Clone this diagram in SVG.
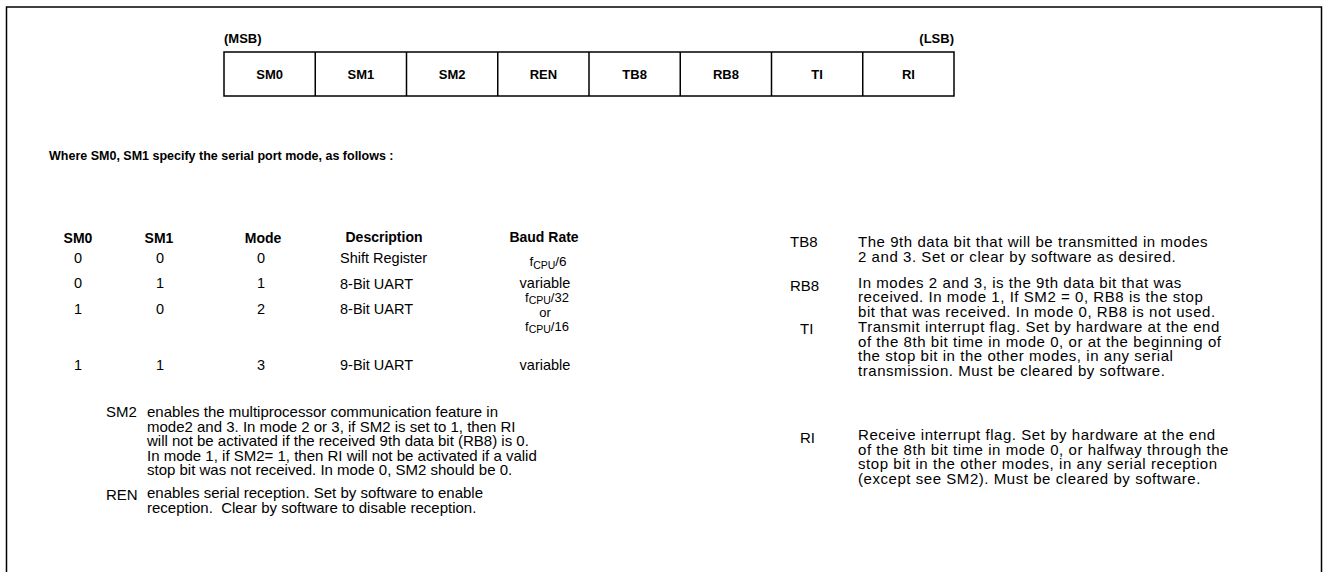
<svg xmlns="http://www.w3.org/2000/svg" width="1324" height="572" viewBox="0 0 1324 572">
<style>
text{font-family:"Liberation Sans",Arial,sans-serif;fill:#000}
.b{font-weight:bold;font-size:13px}
.h{font-weight:bold;font-size:14px}
.t{font-size:14.5px}
.f{font-size:13.5px}
.g{font-size:13px}
.l{font-size:15px}
.r{font-size:15px;letter-spacing:0.55px}
.c{text-anchor:middle}
.sub{font-size:10.5px}
.ln{fill:none;stroke:#000;stroke-width:1.5}
</style>
<rect width="1324" height="572" fill="#fff"/>
<path class="ln" d="M6.5,572 V7 H1321.5 V572" stroke-width="2"/>
<g id="register">
<text class="b" x="224" y="43">(MSB)</text>
<text class="b" x="954" y="43" text-anchor="end">(LSB)</text>
<rect class="ln" x="224" y="52" width="730" height="44"/>
<path class="ln" d="M315.25,52V96M406.5,52V96M497.75,52V96M589,52V96M680.25,52V96M771.5,52V96M862.75,52V96"/>
<g class="b c">
<text x="269.6" y="79">SM0</text>
<text x="360.9" y="79">SM1</text>
<text x="452.1" y="79">SM2</text>
<text x="543.4" y="79">REN</text>
<text x="634.6" y="79">TB8</text>
<text x="725.9" y="79">RB8</text>
<text x="817.1" y="79">TI</text>
<text x="908.4" y="79">RI</text>
</g>
</g>
<g id="title"><text class="b" x="49" y="160" style="font-size:12.5px">Where SM0, SM1 specify the serial port mode, as follows :</text></g>
<g id="mode-table">
<g class="h c">
<text x="78" y="243">SM0</text>
<text x="159" y="243">SM1</text>
<text x="263" y="243">Mode</text>
<text x="384" y="242">Description</text>
<text x="544" y="242">Baud Rate</text>
</g>
<g class="t c">
<text x="78" y="263">0</text><text x="160" y="263">0</text><text x="261" y="263">0</text>
<text x="78" y="288">0</text><text x="160" y="288">1</text><text x="261" y="288">1</text>
<text x="78" y="314">1</text><text x="160" y="314">0</text><text x="261" y="314">2</text>
<text x="78" y="370">1</text><text x="160" y="370">1</text><text x="261" y="370">3</text>
<text x="545" y="287.5">variable</text>
<text x="545" y="370">variable</text>
</g>
<g class="f c">
<text x="548" y="266">f<tspan class="sub" dy="3">CPU</tspan><tspan dy="-3">/6</tspan></text>
</g>
<g class="g c">
<text x="547" y="301.5">f<tspan class="sub" dy="2">CPU</tspan><tspan dy="-2">/32</tspan></text>
<text x="545" y="317">or</text>
<text x="547" y="330.5">f<tspan class="sub" dy="2">CPU</tspan><tspan dy="-2">/16</tspan></text>
</g>
<g class="t">
<text x="340" y="263">Shift Register</text>
<text x="340" y="289">8-Bit UART</text>
<text x="340" y="314">8-Bit UART</text>
<text x="340" y="370">9-Bit UART</text>
</g>
</g>
<g id="sm2-desc" class="l">
<text x="106" y="417">SM2</text>
<text x="147" y="417">enables the multiprocessor communication feature in</text>
<text x="147" y="431.5">mode2 and 3. In mode 2 or 3, if SM2 is set to 1, then RI</text>
<text x="147" y="446">will not be activated if the received 9th data bit (RB8) is 0.</text>
<text x="147" y="460.5">In mode 1, if SM2= 1, then RI will not be activated if a valid</text>
<text x="147" y="475">stop bit was not received. In mode 0, SM2 should be 0.</text>
</g>
<g id="ren-desc" class="l">
<text x="106" y="500">REN</text>
<text x="147" y="498">enables serial reception. Set by software to enable</text>
<text x="147" y="512.5">reception.&#160; Clear by software to disable reception.</text>
</g>
<g id="tb8-desc">
<text class="l" x="790" y="247">TB8</text>
<text class="r" x="858" y="247">The 9th data bit that will be transmitted in modes</text>
<text class="r" x="858" y="261.5">2 and 3. Set or clear by software as desired.</text>
</g>
<g id="rb8-desc">
<text class="l" x="790" y="291">RB8</text>
<text class="r" x="858" y="287.5">In modes 2 and 3, is the 9th data bit that was</text>
<text class="r" x="858" y="302">received. In mode 1, If SM2 = 0, RB8 is the stop</text>
<text class="r" x="858" y="316.5">bit that was received. In mode 0, RB8 is not used.</text>
</g>
<g id="ti-desc">
<text class="l" x="800" y="334">TI</text>
<text class="r" x="858" y="332">Transmit interrupt flag. Set by hardware at the end</text>
<text class="r" x="858" y="346.5">of the 8th bit time in mode 0, or at the beginning of</text>
<text class="r" x="858" y="361">the stop bit in the other modes, in any serial</text>
<text class="r" x="858" y="375.5">transmission. Must be cleared by software.</text>
</g>
<g id="ri-desc">
<text class="l" x="800" y="443">RI</text>
<text class="r" x="858" y="440">Receive interrupt flag. Set by hardware at the end</text>
<text class="r" x="858" y="454.5">of the 8th bit time in mode 0, or halfway through the</text>
<text class="r" x="858" y="469">stop bit in the other modes, in any serial reception</text>
<text class="r" x="858" y="483.5">(except see SM2). Must be cleared by software.</text>
</g>
</svg>
